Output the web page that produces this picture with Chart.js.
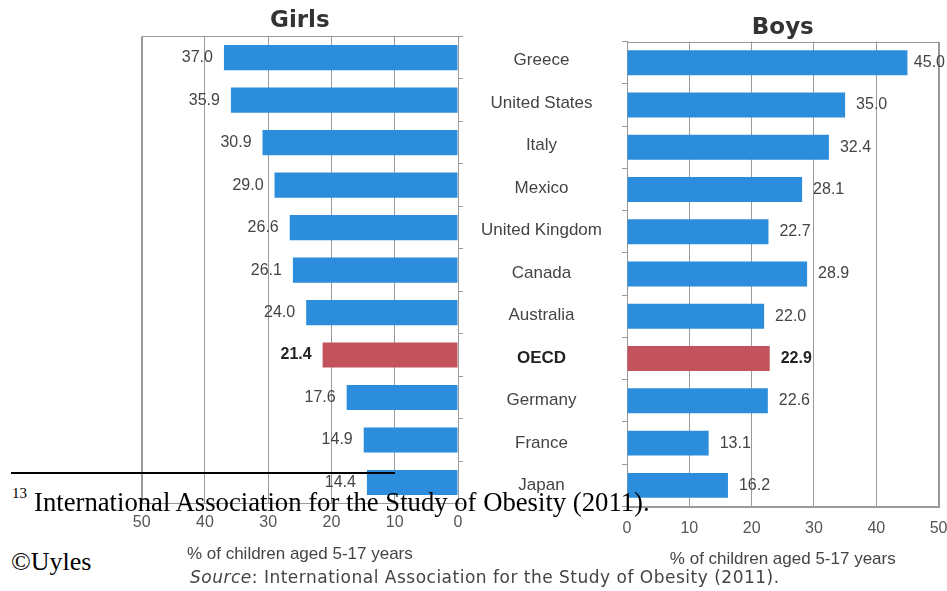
<!DOCTYPE html>
<html>
<head>
<meta charset="utf-8">
<script src="https://cdn.jsdelivr.net/npm/chart.js@4"></script>
<style>
  html, body { margin: 0; padding: 0; background: #fff; overflow: hidden; }
  #pagina { position: relative; width: 947px; height: 591px; overflow: hidden; }
  canvas { position: absolute; top: 0; }
  #graficoRagazze { left: 100px; }
  #graficoRagazzi { left: 600px; }
  .nota { position: absolute; font-family: "Liberation Serif", "Times New Roman", serif; color: #000; white-space: nowrap; }
  #linea { position: absolute; left: 11px; top: 472px; width: 384px; height: 2px; background: #000; }
  #fonte { position: absolute; left: 190px; top: 567px; font: 17px "DejaVu Sans", Verdana, sans-serif; letter-spacing: 0.5px; color: #444; white-space: nowrap; line-height: 20px; }
</style>
</head>
<body>
<div id="pagina">
  <canvas id="graficoRagazze" width="524" height="591"></canvas>
  <canvas id="graficoRagazzi" width="360" height="591"></canvas>
  <div id="linea"></div>
  <div class="nota" style="left:12px; top:486px; font-size:15px; line-height:15px;">13</div>
  <div class="nota" style="left:34px; top:489px; font-size:26.7px; line-height:26.7px;">International Association for the Study of Obesity (2011).</div>
  <div class="nota" style="left:11px; top:549px; font-size:26px; line-height:26px;">©Uyles</div>
  <div id="fonte"><i>Source</i>: International Association for the Study of Obesity (2011).</div>
</div>
<script>
const paesi = ["Greece", "United States", "Italy", "Mexico", "United Kingdom", "Canada",
    "Australia", "OECD", "Germany", "France", "Japan"];
const valoriRagazze = [37.0, 35.9, 30.9, 29.0, 26.6, 26.1, 24.0, 21.4, 17.6, 14.9, 14.4];
const valoriRagazzi = [45.0, 35.0, 32.4, 28.1, 22.7, 28.9, 22.0, 22.9, 22.6, 13.1, 16.2];
const tickAsse = [0, 10, 20, 30, 40, 50];
const indiceOECD = paesi.indexOf("OECD");

const blu = '#2b8ddb';
const rosso = '#c2525c';
const grigio = '#9a9a9a';
const famiglia = '"Liberation Sans", Arial, sans-serif';

// Bordo intorno all'area del grafico
const bordo = {
    id: 'bordo',
    beforeDatasetsDraw(chart) {
        const a = chart.chartArea;
        const ctx = chart.ctx;
        ctx.save();
        ctx.strokeStyle = grigio;
        ctx.lineWidth = 1;
        ctx.strokeRect(Math.round(a.left) + 0.5, Math.round(a.top) + 0.5,
            Math.round(a.right - a.left), Math.round(a.bottom - a.top));
        ctx.restore();
    }
};

// Etichette con i valori accanto alle barre
const etichette = {
    id: 'etichette',
    afterDatasetsDraw(chart, args, opts) {
        const ctx = chart.ctx;
        const dati = chart.data.datasets[0].data;
        ctx.save();
        ctx.textBaseline = 'middle';
        chart.getDatasetMeta(0).data.forEach((bar, i) => {
            const grassetto = i === indiceOECD;
            ctx.font = (grassetto ? 'bold ' : '') + '16px ' + famiglia;
            ctx.fillStyle = grassetto ? '#222' : '#444';
            const testo = dati[i].toFixed(1);
            if (opts.lato === 'sinistra') {
                ctx.textAlign = 'right';
                ctx.fillText(testo, bar.x - 11, bar.y);
            } else {
                ctx.textAlign = 'left';
                const w = ctx.measureText(testo).width;
                ctx.fillText(testo, Math.min(bar.x + 11, opts.limite - w), bar.y);
            }
        });
        ctx.restore();
    }
};

function creaGrafico(id, titolo, valori, lato) {
    const sinistra = lato === 'sinistra';
    return new Chart(document.getElementById(id), {
        type: 'bar',
        data: {
            labels: paesi,
            datasets: [{
                data: valori,
                backgroundColor: valori.map((v, i) => i === indiceOECD ? rosso : blu),
                borderWidth: 0,
                categoryPercentage: 1,
                barPercentage: 0.59
            }]
        },
        plugins: [bordo, etichette],
        options: {
            indexAxis: 'y',
            responsive: false,
            animation: false,
            layout: {
                padding: sinistra
                    ? { left: 41.7, right: 0, top: 0, bottom: 26.8 }
                    : { left: 0, right: 12, top: 0, bottom: 21.8 }
            },
            plugins: {
                legend: { display: false },
                tooltip: { enabled: false },
                etichette: { lato: lato, limite: 345 },
                title: {
                    display: true,
                    text: titolo,
                    fullSize: false,
                    color: '#333',
                    font: { family: '"DejaVu Sans", Verdana, sans-serif', size: 23, weight: 'bold' },
                    padding: sinistra ? { top: 7.7, bottom: 1.1 } : { top: 14.2, bottom: -0.2 }
                }
            },
            scales: {
                x: {
                    type: 'linear',
                    reverse: sinistra,
                    min: tickAsse[0],
                    max: tickAsse[tickAsse.length - 1],
                    afterBuildTicks: s => { s.ticks = tickAsse.map(v => ({ value: v })); },
                    grid: { color: grigio, drawTicks: false },
                    border: { color: grigio },
                    ticks: {
                        color: '#555',
                        padding: sinistra ? 9 : 12.5,
                        font: { family: famiglia, size: 16 }
                    },
                    title: {
                        display: true,
                        text: '% of children aged 5-17 years',
                        color: '#444',
                        font: { family: famiglia, size: 17 },
                        padding: { top: sinistra ? 2.8 : -1.9, bottom: 0 }
                    }
                },
                y: {
                    position: sinistra ? 'right' : 'left',
                    grid: { drawOnChartArea: false, drawTicks: true, tickLength: 5, color: grigio },
                    border: { color: grigio },
                    afterFit: s => { s.width = sinistra ? 166 : 27; },
                    ticks: {
                        display: sinistra,
                        crossAlign: 'center',
                        padding: 18,
                        labelOffset: 3,
                        color: c => c.index === indiceOECD ? '#222' : '#444',
                        font: c => ({ family: famiglia, size: 17, weight: c.index === indiceOECD ? 'bold' : 'normal' })
                    }
                }
            }
        }
    });
}

creaGrafico('graficoRagazze', 'Girls', valoriRagazze, 'sinistra');
creaGrafico('graficoRagazzi', 'Boys', valoriRagazzi, 'destra');
</script>
</body>
</html>
